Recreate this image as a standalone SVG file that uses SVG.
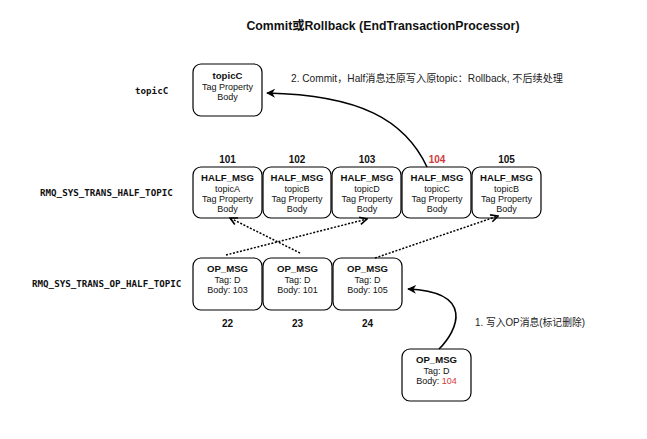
<svg xmlns="http://www.w3.org/2000/svg" width="647" height="439" viewBox="0 0 647 439">
<defs>
<style>
.box{fill:#fff;stroke:#000;stroke-width:1.2}
.t{font-family:"Liberation Sans","Noto Sans CJK SC",sans-serif;font-size:9px;text-anchor:middle;fill:#111}
.b{font-weight:bold;font-size:9.6px}
.num{font-family:"Liberation Sans",sans-serif;font-size:10px;font-weight:bold;text-anchor:middle;fill:#111}
.mono{font-family:"DejaVu Sans Mono","Liberation Mono",monospace;font-size:9.2px;font-weight:bold;fill:#111}
.lbl{font-family:"Liberation Sans","Noto Sans CJK SC",sans-serif;font-size:10.5px;fill:#222}
.red{fill:#d23a3a}
.solid{fill:none;stroke:#000;stroke-width:1.6}
.dot{fill:none;stroke:#000;stroke-width:1.5;stroke-dasharray:2 1.6}
</style>
<marker id="ah" viewBox="0 0 10 10" refX="9" refY="5" markerWidth="9" markerHeight="9" markerUnits="userSpaceOnUse" orient="auto">
<path d="M0,0 L10,5 L0,10 L3,5 Z" fill="#000"/>
</marker>
<marker id="oa" viewBox="0 0 10 10" refX="9" refY="5" markerWidth="9" markerHeight="9" markerUnits="userSpaceOnUse" orient="auto">
<path d="M1,1 L9,5 L1,9" fill="none" stroke="#000" stroke-width="1.8"/>
</marker>
</defs>
<rect width="647" height="439" fill="#fff"/>
<text x="383" y="30" font-family="Liberation Sans,Noto Sans CJK SC,sans-serif" font-size="12.5" font-weight="bold" text-anchor="middle" fill="#111" textLength="273" lengthAdjust="spacingAndGlyphs">Commit或Rollback (EndTransactionProcessor)</text>
<text class="mono" x="135" y="94">topicC</text>
<text class="mono" x="40" y="196">RMQ_SYS_TRANS_HALF_TOPIC</text>
<text class="mono" x="32" y="287">RMQ_SYS_TRANS_OP_HALF_TOPIC</text>
<text class="lbl" x="291" y="82" textLength="272" lengthAdjust="spacingAndGlyphs">2. Commit，Half消息还原写入原topic：Rollback, 不后续处理</text>
<text class="lbl" x="475" y="326" textLength="110" lengthAdjust="spacingAndGlyphs">1. 写入OP消息(标记删除)</text>
<g id="topicC">
<rect class="box" x="193" y="64" width="69" height="52" rx="8"/>
<text class="t b" x="227.5" y="79">topicC</text>
<text class="t" x="227.5" y="89.5">Tag Property</text>
<text class="t" x="227.5" y="100">Body</text>
</g>
<g id="half101">
<text class="num" x="227.5" y="163">101</text>
<rect class="box" x="193" y="167" width="69" height="51" rx="8"/>
<text class="t b" x="227.5" y="181">HALF_MSG</text>
<text class="t" x="227.5" y="191.5">topicA</text>
<text class="t" x="227.5" y="201.5">Tag Property</text>
<text class="t" x="227.5" y="211.5">Body</text>
</g>
<g id="half102">
<text class="num" x="297" y="163">102</text>
<rect class="box" x="263" y="167" width="68" height="51" rx="8"/>
<text class="t b" x="297" y="181">HALF_MSG</text>
<text class="t" x="297" y="191.5">topicB</text>
<text class="t" x="297" y="201.5">Tag Property</text>
<text class="t" x="297" y="211.5">Body</text>
</g>
<g id="half103">
<text class="num" x="367" y="163">103</text>
<rect class="box" x="332" y="167" width="69" height="51" rx="8"/>
<text class="t b" x="367" y="181">HALF_MSG</text>
<text class="t" x="367" y="191.5">topicD</text>
<text class="t" x="367" y="201.5">Tag Property</text>
<text class="t" x="367" y="211.5">Body</text>
</g>
<g id="half104">
<text class="num red" x="437" y="163">104</text>
<rect class="box" x="402" y="167" width="69" height="51" rx="8"/>
<text class="t b" x="437" y="181">HALF_MSG</text>
<text class="t" x="437" y="191.5">topicC</text>
<text class="t" x="437" y="201.5">Tag Property</text>
<text class="t" x="437" y="211.5">Body</text>
</g>
<g id="half105">
<text class="num" x="506.5" y="163">105</text>
<rect class="box" x="472" y="167" width="69" height="51" rx="8"/>
<text class="t b" x="506.5" y="181">HALF_MSG</text>
<text class="t" x="506.5" y="191.5">topicB</text>
<text class="t" x="506.5" y="201.5">Tag Property</text>
<text class="t" x="506.5" y="211.5">Body</text>
</g>
<g id="op22">
<rect class="box" x="193" y="258" width="69" height="52" rx="8"/>
<text class="t b" x="227.5" y="272">OP_MSG</text>
<text class="t" x="227.5" y="282.5">Tag: D</text>
<text class="t" x="227.5" y="293">Body: 103</text>
<text class="num" x="227.5" y="327">22</text>
</g>
<g id="op23">
<rect class="box" x="263" y="258" width="69" height="52" rx="8"/>
<text class="t b" x="297.5" y="272">OP_MSG</text>
<text class="t" x="297.5" y="282.5">Tag: D</text>
<text class="t" x="297.5" y="293">Body: 101</text>
<text class="num" x="297.5" y="327">23</text>
</g>
<g id="op24">
<rect class="box" x="333" y="258" width="69" height="52" rx="8"/>
<text class="t b" x="367.5" y="272">OP_MSG</text>
<text class="t" x="367.5" y="282.5">Tag: D</text>
<text class="t" x="367.5" y="293">Body: 105</text>
<text class="num" x="367.5" y="327">24</text>
</g>
<g id="opNew">
<rect class="box" x="402" y="349" width="69" height="52" rx="8"/>
<text class="t b" x="436.5" y="363">OP_MSG</text>
<text class="t" x="436.5" y="373.5">Tag: D</text>
<text class="t" x="436.5" y="384">Body: <tspan class="red">104</tspan></text>
</g>
<g id="connectors">
<path class="solid" d="M427 167 C405 120 360 95 267 93" marker-end="url(#ah)"/>
<path class="solid" d="M439 349 C458 330 475 292 408 289" marker-end="url(#ah)"/>
<path class="dot" d="M226 255 L367 219" marker-end="url(#oa)"/>
<path class="dot" d="M300 253 L230 218" marker-end="url(#oa)"/>
<path class="dot" d="M375 258 L498 216" marker-end="url(#oa)"/>
</g>
</svg>
